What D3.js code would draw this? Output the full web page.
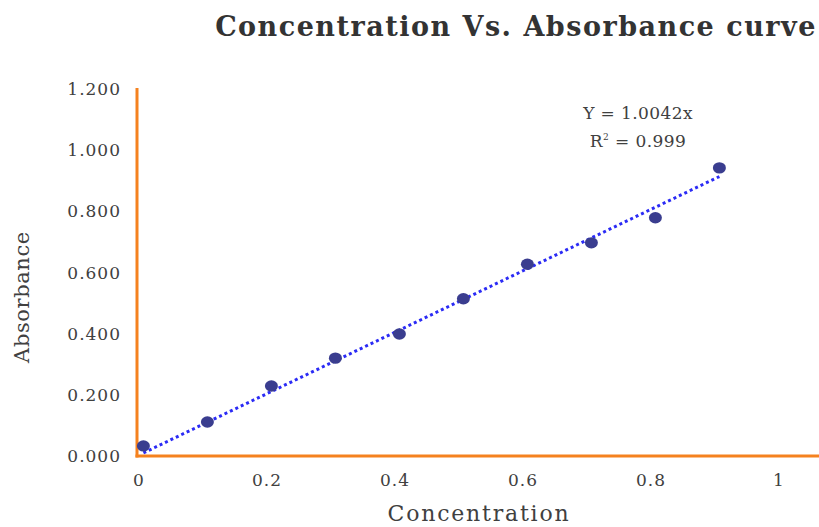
<!DOCTYPE html>
<html>
<head>
<meta charset="utf-8">
<script src="https://cdn.jsdelivr.net/npm/d3@7"></script>
<style>
  body { margin: 0; background: #fff; }
  text { font-family: "DejaVu Serif", serif; fill: #404040; }
</style>
</head>
<body>
<script>
// data
var concentration = [0.01, 0.11, 0.21, 0.31, 0.41, 0.51, 0.61, 0.71, 0.81, 0.91];
var absorbance = [0.033, 0.111, 0.229, 0.320, 0.399, 0.514, 0.627, 0.697, 0.779, 0.942];
var slope = 1.0042;
var xTicks = [0, 0.2, 0.4, 0.6, 0.8, 1];
var yTicks = [0, 0.2, 0.4, 0.6, 0.8, 1.0, 1.2];

var width = 819, height = 527;
var plotLeft = 137, plotRight = 819, plotTop = 89, plotBottom = 456;

var svg = d3.select("body").append("svg")
    .attr("width", width)
    .attr("height", height);

var x = d3.scaleLinear().domain([0, 1]).range([plotLeft, plotLeft + 640]);
var y = d3.scaleLinear().domain([0, 1.2]).range([plotBottom, plotTop]);

// title
svg.append("text")
    .attr("x", 516).attr("y", 36)
    .attr("text-anchor", "middle")
    .style("font-size", "27px")
    .style("letter-spacing", "1.5px")
    .style("font-weight", "bold")
    .style("fill", "#333")
    .text("Concentration Vs. Absorbance curve");

// y tick labels
svg.selectAll(".ytick")
    .data(yTicks)
    .enter().append("text")
    .attr("class", "ytick")
    .attr("x", 121)
    .attr("y", d => y(d) + 6)
    .attr("text-anchor", "end")
    .style("font-size", "17px")
    .style("letter-spacing", "1px")
    .text(d => d3.format(".3f")(d));

// x tick labels
svg.selectAll(".xtick")
    .data(xTicks)
    .enter().append("text")
    .attr("class", "xtick")
    .attr("x", d => x(d) + 2)
    .attr("y", 486)
    .attr("text-anchor", "middle")
    .style("font-size", "17px")
    .style("letter-spacing", "1px")
    .text(d => d3.format("")(d));

// axis titles
svg.append("text")
    .attr("transform", "translate(29," + 297 + ") rotate(-90)")
    .attr("text-anchor", "middle")
    .style("font-size", "21px")
    .style("letter-spacing", "0.6px")
    .text("Absorbance");

svg.append("text")
    .attr("x", 479).attr("y", 521)
    .attr("text-anchor", "middle")
    .style("font-size", "22px")
    .style("letter-spacing", "1.8px")
    .text("Concentration");

// axes lines
svg.append("line")
    .attr("x1", plotLeft).attr("x2", plotLeft)
    .attr("y1", plotTop - 1).attr("y2", plotBottom + 1.5)
    .style("stroke", "#f5821f")
    .style("stroke-width", 3);
svg.append("line")
    .attr("x1", plotLeft - 1.5).attr("x2", plotRight)
    .attr("y1", plotBottom).attr("y2", plotBottom)
    .style("stroke", "#f5821f")
    .style("stroke-width", 3);

// trendline
var x0 = d3.min(concentration), x1 = d3.max(concentration);
svg.append("line")
    .attr("x1", x(x0)).attr("y1", y(slope * x0))
    .attr("x2", x(x1)).attr("y2", y(slope * x1))
    .style("stroke", "#2b2bf5")
    .style("stroke-width", 3)
    .style("stroke-dasharray", "3,3");

// points
svg.selectAll(".pt")
    .data(concentration)
    .enter().append("ellipse")
    .attr("class", "pt")
    .attr("cx", d => x(d))
    .attr("cy", (d, i) => y(absorbance[i]))
    .attr("rx", 6.5)
    .attr("ry", 5.7)
    .style("fill", "#3a3d8f");

// equation
svg.append("text")
    .attr("x", 638).attr("y", 119)
    .attr("text-anchor", "middle")
    .style("font-size", "17px")
    .style("letter-spacing", "0.4px")
    .text("Y = 1.0042x");
var r2 = svg.append("text")
    .attr("x", 638).attr("y", 147)
    .attr("text-anchor", "middle")
    .style("font-size", "17px")
    .style("letter-spacing", "0.4px");
r2.append("tspan").text("R");
r2.append("tspan").attr("dy", -7).style("font-size", "9px").text("2");
r2.append("tspan").attr("dy", 7).text(" = 0.999");
</script>
</body>
</html>
